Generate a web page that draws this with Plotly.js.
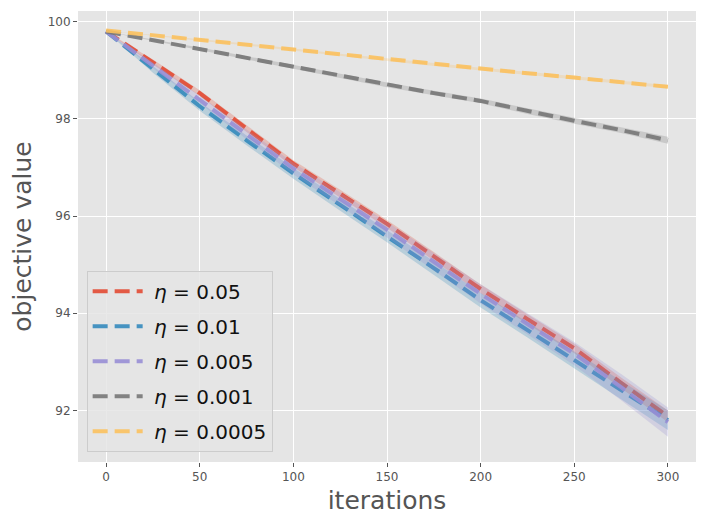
<!DOCTYPE html>
<html>
<head>
<meta charset="utf-8">
<script src="https://cdn.plot.ly/plotly-3.0.1.min.js"></script>
<style>
  html, body { margin: 0; padding: 0; background: #fff; }
  #plot { width: 705px; height: 526px; }
</style>
</head>
<body>
<div id="plot"></div>
<script>
// iterations sampled every 25 steps
const iterations = [0, 25, 50, 75, 100, 125, 150, 175, 200, 225, 250, 275, 300];

// mean objective value per learning rate
const eta005 = [99.80, 99.17, 98.53, 97.80, 97.08, 96.46, 95.84, 95.17, 94.50, 93.88, 93.28, 92.57, 91.88];
const eta001 = [99.80, 99.02, 98.26, 97.56, 96.88, 96.23, 95.59, 94.93, 94.27, 93.66, 93.04, 92.42, 91.80];
const eta0005 = [99.80, 99.10, 98.40, 97.68, 96.98, 96.35, 95.72, 95.06, 94.40, 93.78, 93.17, 92.48, 91.76];
const eta0001 = [99.80, 99.62, 99.44, 99.26, 99.07, 98.88, 98.70, 98.53, 98.37, 98.16, 97.96, 97.77, 97.56];
const eta00005 = [99.82, 99.72, 99.63, 99.53, 99.43, 99.32, 99.22, 99.12, 99.02, 98.94, 98.85, 98.75, 98.66];

// spread (half width of the shaded band)
const spread005 = [0.00, 0.05, 0.06, 0.07, 0.07, 0.08, 0.08, 0.09, 0.09, 0.10, 0.10, 0.11, 0.12];
const spread001 = [0.00, 0.07, 0.09, 0.10, 0.11, 0.12, 0.13, 0.14, 0.15, 0.16, 0.17, 0.19, 0.20];
const spread0005 = [0.00, 0.06, 0.08, 0.10, 0.12, 0.14, 0.16, 0.18, 0.20, 0.22, 0.24, 0.27, 0.30];
const spread0001 = [0.00, 0.02, 0.03, 0.03, 0.04, 0.04, 0.05, 0.05, 0.05, 0.06, 0.06, 0.06, 0.07];
const spread00005 = [0.00, 0.01, 0.02, 0.02, 0.02, 0.02, 0.03, 0.03, 0.03, 0.03, 0.03, 0.03, 0.03];

const labels = ["0.05", "0.01", "0.005", "0.001", "0.0005"];
const colors = ["#E24A33", "#348ABD", "#988ED5", "#777777", "#FBC15E"];
const bandColors = [
  "rgba(226,74,51,0.25)",
  "rgba(52,138,189,0.25)",
  "rgba(152,142,213,0.25)",
  "rgba(119,119,119,0.25)",
  "rgba(251,193,94,0.25)"
];
const means = [eta005, eta001, eta0005, eta0001, eta00005];
const spreads = [spread005, spread001, spread0005, spread0001, spread00005];

const data = [];
means.forEach(function (m, i) {
  data.push({
    x: iterations,
    y: m,
    type: "scatter",
    mode: "lines",
    name: "\u00A0<i>η</i> = " + labels[i],
    legendgroup: "g" + i,
    line: { color: colors[i], width: 4, dash: "15px,7px" },
    opacity: 0.9
  });
  const upper = m.map(function (v, k) { return v + spreads[i][k]; });
  const lower = m.map(function (v, k) { return v - spreads[i][k]; });
  data.push({
    x: iterations.concat(iterations.slice().reverse()),
    y: upper.concat(lower.slice().reverse()),
    type: "scatter",
    mode: "lines",
    fill: "toself",
    fillcolor: bandColors[i],
    line: { width: 0 },
    legendgroup: "g" + i,
    hoverinfo: "skip",
    showlegend: false
  });
});

const axisCommon = {
  showgrid: true,
  gridcolor: "#ffffff",
  gridwidth: 1,
  zeroline: false,
  showline: false,
  ticks: "outside",
  ticklen: 4,
  tickwidth: 1,
  tickcolor: "#555555",
  tickfont: { family: "DejaVu Sans", size: 12, color: "#555555" }
};

const layout = {
  width: 705,
  height: 526,
  margin: { l: 78, r: 9, t: 11, b: 64 },
  paper_bgcolor: "#ffffff",
  plot_bgcolor: "#E5E5E5",
  font: { family: "DejaVu Sans", color: "#555555" },
  xaxis: Object.assign({}, axisCommon, {
    range: [-15, 315],
    tickvals: [0, 50, 100, 150, 200, 250, 300],
    title: { text: "iterations", font: { family: "DejaVu Sans", size: 25, color: "#555555" }, standoff: 8 }
  }),
  yaxis: Object.assign({}, axisCommon, {
    range: [90.94, 100.22],
    tickvals: [92, 94, 96, 98, 100],
    title: { text: "objective value", font: { family: "DejaVu Sans", size: 25, color: "#555555" }, standoff: 8 }
  }),
  legend: {
    x: 0.014,
    y: 0.023,
    xanchor: "left",
    yanchor: "bottom",
    bgcolor: "rgba(229,229,229,0.85)",
    bordercolor: "#cccccc",
    borderwidth: 1,
    tracegroupgap: 6,
    font: { family: "DejaVu Sans", size: 20, color: "#111111" },
    itemwidth: 50
  },
  showlegend: true
};

Plotly.newPlot("plot", data, layout, { displayModeBar: false, staticPlot: true });
</script>
</body>
</html>
